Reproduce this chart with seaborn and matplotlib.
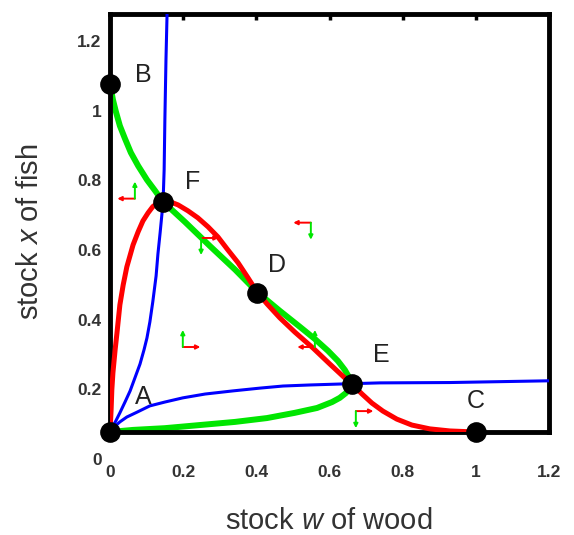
import numpy as np
import pandas as pd
import matplotlib
matplotlib.use("Agg")
import matplotlib.pyplot as plt
import matplotlib.transforms as mtransforms
import seaborn as sns

# ---------------- data ----------------
# red nullcline (w, x)
red_w = [0.0, 0.003, 0.005, 0.008, 0.014, 0.019, 0.027, 0.036, 0.046, 0.063, 0.077, 0.090,
         0.104, 0.117, 0.131, 0.145, 0.164, 0.186, 0.213, 0.240, 0.268, 0.295, 0.322, 0.350,
         0.377, 0.402, 0.429, 0.464, 0.505, 0.555, 0.601, 0.642, 0.661, 0.689, 0.716, 0.746,
         0.784, 0.825, 0.874, 0.929, 1.0]
red_x = [0.0, 0.063, 0.121, 0.170, 0.236, 0.284, 0.365, 0.422, 0.474, 0.537, 0.575, 0.606,
         0.629, 0.647, 0.658, 0.664, 0.661, 0.652, 0.635, 0.615, 0.589, 0.560, 0.523, 0.486,
         0.443, 0.402, 0.368, 0.328, 0.287, 0.241, 0.195, 0.155, 0.138, 0.109, 0.083, 0.060,
         0.037, 0.020, 0.009, 0.003, 0.0]

# green nullcline (w, x)
green_w = [0.0, 0.003, 0.008, 0.016, 0.027, 0.041, 0.057, 0.077, 0.101, 0.123, 0.145, 0.205,
           0.273, 0.342, 0.402, 0.464, 0.519, 0.560, 0.596, 0.623, 0.642, 0.653, 0.658, 0.656,
           0.645, 0.628, 0.607, 0.566, 0.505, 0.429, 0.342, 0.246, 0.150, 0.063, 0.0]
green_x = [1.0, 0.983, 0.954, 0.920, 0.879, 0.842, 0.802, 0.764, 0.724, 0.693, 0.661, 0.603,
           0.534, 0.466, 0.402, 0.348, 0.302, 0.267, 0.233, 0.204, 0.178, 0.158, 0.144, 0.126,
           0.112, 0.098, 0.086, 0.069, 0.055, 0.040, 0.029, 0.020, 0.011, 0.006, 0.0]

# blue curve, steep branch (w, x)
blue1_w = [0.0, 0.005, 0.016, 0.027, 0.041, 0.055, 0.068, 0.082, 0.093, 0.101, 0.109, 0.117,
           0.126, 0.131, 0.137, 0.142, 0.145, 0.148, 0.150, 0.153, 0.156]
blue1_x = [0.0, 0.011, 0.032, 0.055, 0.086, 0.118, 0.155, 0.195, 0.236, 0.270, 0.316, 0.374,
           0.448, 0.511, 0.572, 0.626, 0.658, 0.753, 0.897, 1.069, 1.201]

# blue curve, flat branch (w, x)
blue2_w = [0.0, 0.011, 0.027, 0.046, 0.074, 0.109, 0.150, 0.199, 0.260, 0.336, 0.410, 0.473,
           0.546, 0.637, 0.738, 0.929, 1.2]
blue2_x = [0.0, 0.014, 0.029, 0.043, 0.057, 0.075, 0.086, 0.098, 0.109, 0.118, 0.126, 0.132,
           0.135, 0.138, 0.141, 0.142, 0.147]

# equilibrium points
pt_names = ["A", "B", "F", "D", "E", "C"]
pt_w = [0.0, 0.0, 0.145, 0.402, 0.661, 1.0]
pt_x = [0.0, 1.0, 0.661, 0.399, 0.138, 0.0]

# direction indicators: corner (w, x), sign of red (w) and green (x) arrows
arr_w = [0.068, 0.549, 0.249, 0.199, 0.560, 0.672]
arr_x = [0.670, 0.601, 0.557, 0.244, 0.244, 0.060]
arr_dw = [-1, -1, 1, 1, -1, 1]
arr_dx = [1, -1, -1, 1, 1, -1]

ticks = [0, 0.2, 0.4, 0.6, 0.8, 1, 1.2]
tick_labels = ["0", "0.2", "0.4", "0.6", "0.8", "1", "1.2"]

# ---------------- styling ----------------
sns.set_style("white")
plt.rcParams["font.family"] = ["Liberation Sans", "DejaVu Sans"]
plt.rcParams["mathtext.fontset"] = "custom"
plt.rcParams["mathtext.rm"] = "Liberation Sans"
plt.rcParams["mathtext.it"] = "Liberation Sans:italic"

fig = plt.figure(figsize=(5.74, 5.35), dpi=100)
ax = fig.add_axes([110 / 574, 1 - 432 / 535, (549 - 110) / 574, (432 - 14) / 535])

RED, GREEN, BLUE = "#ff0000", "#00e600", "#0000ff"

df_g = pd.DataFrame({"w": green_w, "x": green_x})
df_r = pd.DataFrame({"w": red_w, "x": red_x})
df_b1 = pd.DataFrame({"w": blue1_w, "x": blue1_x})
df_b2 = pd.DataFrame({"w": blue2_w, "x": blue2_x})

common = dict(sort=False, estimator=None, ax=ax, solid_joinstyle="round", solid_capstyle="round")
sns.lineplot(data=df_g, x="w", y="x", color=GREEN, lw=4.3, zorder=2, **common)
sns.lineplot(data=df_r, x="w", y="x", color=RED, lw=3.6, zorder=3, **common)
sns.lineplot(data=df_b1, x="w", y="x", color=BLUE, lw=2.2, zorder=4, **common)
sns.lineplot(data=df_b2, x="w", y="x", color=BLUE, lw=2.2, zorder=4, **common)

df_p = pd.DataFrame({"w": pt_w, "x": pt_x, "name": pt_names})
sns.scatterplot(data=df_p, x="w", y="x", color="black", s=190, edgecolor="black",
                ax=ax, zorder=6, clip_on=False, legend=False)

label_off = {"A": (24, 25), "B": (24, 6.5), "F": (21, 14), "D": (14, 20), "E": (21, 21), "C": (0, 22)}
for n, w, x in zip(pt_names, pt_w, pt_x):
    ax.annotate(n, (w, x), xytext=label_off[n], textcoords="offset points",
                ha="center", va="center", fontsize=18, color="#222222", zorder=7)

L_w, L_x = 0.048, 0.049
for w, x, sw, sx in zip(arr_w, arr_x, arr_dw, arr_dx):
    ax.annotate("", xy=(w + sw * L_w, x), xytext=(w, x),
                arrowprops=dict(arrowstyle="-|>", color=RED, lw=1.4, mutation_scale=6,
                                shrinkA=0, shrinkB=0), zorder=5)
    ax.annotate("", xy=(w, x + sx * L_x), xytext=(w, x),
                arrowprops=dict(arrowstyle="-|>", color=GREEN, lw=1.4, mutation_scale=6,
                                shrinkA=0, shrinkB=0), zorder=5)

ax.set_xlim(0, 1.2)
ax.set_ylim(0, 1.2)
ax.set_xticks(ticks)
ax.set_xticklabels(tick_labels)
ax.set_yticks(ticks)
ax.set_yticklabels(tick_labels)
ax.tick_params(direction="in", top=True, right=False, length=4, width=2.5,
               labelsize=12.5, labelcolor="#333333", color="black")
ax.tick_params(axis="x", pad=24)
ax.tick_params(axis="y", pad=6)
for lab in ax.get_xticklabels() + ax.get_yticklabels():
    lab.set_fontweight("bold")
offset = mtransforms.ScaledTranslation(0, -27 / 100, fig.dpi_scale_trans)
for lab in ax.get_yticklabels():
    lab.set_transform(lab.get_transform() + offset)

for sp in ax.spines.values():
    sp.set_visible(True)
    sp.set_color("black")
    sp.set_linewidth(3.5)

ax.set_xlabel(r"stock $\mathit{w}$ of wood", fontsize=21, color="#333333")
ax.set_ylabel(r"stock $\mathit{x}$ of fish", fontsize=21, color="#333333")
ax.xaxis.label.set_verticalalignment("baseline")
ax.xaxis.set_label_coords(0.499, -0.232)
ax.yaxis.set_label_coords(-0.15, 0.48)

fig.savefig("out.png", dpi=100)
